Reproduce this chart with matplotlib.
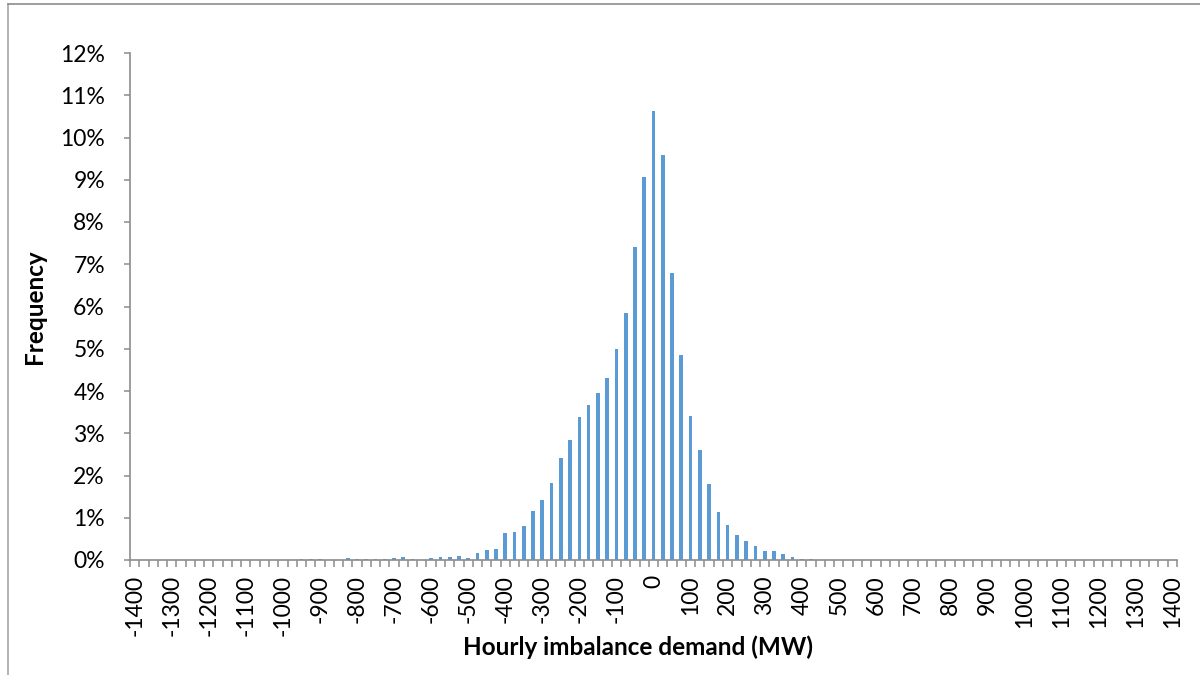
import matplotlib
matplotlib.use("Agg")
import matplotlib.pyplot as plt
from matplotlib.ticker import PercentFormatter, FixedLocator
from matplotlib.lines import Line2D

# Category bins (MW), 25 MW wide
categories = list(range(-1400, 1425, 25))

# Frequency (%) per bin
freq_pct = [
    0, 0, 0, 0, 0, 0, 0, 0, 0, 0, 0, 0, 0, 0, 0, 0, 0, 0,          # -1400 .. -975
    0.02, 0.02, 0.02, 0.005, 0.005, 0.05, 0.015, 0.02, 0.02, 0.02,  # -950 .. -725
    0.05, 0.07, 0.02, 0.0, 0.05, 0.07, 0.07, 0.095, 0.05, 0.17,     # -700 .. -475
    0.24, 0.26, 0.63, 0.67, 0.81, 1.17, 1.42, 1.82, 2.42, 2.84,     # -450 .. -225
    3.38, 3.68, 3.96, 4.30, 5.00, 5.85, 7.41, 9.07, 10.63, 9.58,    # -200 .. 25
    6.79, 4.86, 3.42, 2.60, 1.81, 1.13, 0.84, 0.58, 0.46, 0.34,     # 50 .. 275
    0.22, 0.22, 0.14, 0.08, 0.03, 0.03,                             # 300 .. 425
    0, 0, 0, 0, 0, 0, 0, 0, 0, 0, 0, 0, 0, 0, 0, 0, 0, 0, 0, 0,     # 450 .. 925
    0, 0, 0, 0, 0, 0, 0, 0, 0, 0, 0, 0, 0, 0, 0, 0, 0, 0, 0,        # 950 .. 1400
]

x_label = "Hourly imbalance demand (MW)"
y_label = "Frequency"

plt.rcParams['font.family'] = ['Lato', 'DejaVu Sans']

fig = plt.figure(figsize=(12, 6.75), dpi=100)
ax = fig.add_axes([130/1200, 1 - 560/675, (1177-130)/1200, (560-53)/675])

pos = list(range(len(categories)))
ax.bar(pos, freq_pct, width=0.4, color="#5B9BD5", edgecolor="none")

ax.set_xlim(-0.5, len(categories) - 0.5)
ax.set_ylim(0, 12)
ax.yaxis.set_major_locator(FixedLocator(list(range(0, 13))))
ax.yaxis.set_major_formatter(PercentFormatter(xmax=100, decimals=0))

label_pos = [i for i, c in enumerate(categories) if c % 100 == 0]
ax.set_xticks(label_pos)
ax.set_xticklabels([str(categories[i]) for i in label_pos], rotation=90)
ax.set_xticks([i - 0.5 for i in range(len(categories) + 1)], minor=True)

axis_col = "#8C8C8C"
for s in ["top", "right"]:
    ax.spines[s].set_visible(False)
for s in ["left", "bottom"]:
    ax.spines[s].set_color(axis_col)
    ax.spines[s].set_linewidth(1.2)

ax.tick_params(axis="x", which="major", length=0, pad=11, labelsize=16.5, colors="black")
ax.tick_params(axis="x", which="minor", length=5, width=1.1, color=axis_col, direction="out")
ax.tick_params(axis="y", which="major", length=4, width=1.1, color=axis_col, pad=14,
               labelsize=16.5, labelcolor="black")

fig.text(638/1200, 1 - 647/675, x_label, ha="center", va="center",
         fontsize=17.5, fontweight="bold")
fig.text(35/1200, 1 - 307/675, y_label, ha="center", va="center",
         fontsize=17.5, fontweight="bold", rotation=90)

# Chart-area border (partially visible)
fig.add_artist(Line2D([7.5/1200, 7.5/1200], [0, 1 - 4/675], transform=fig.transFigure,
                      color="#A6A6A6", linewidth=1.2))
fig.add_artist(Line2D([7.5/1200, 1], [1 - 4/675, 1 - 4/675], transform=fig.transFigure,
                      color="#8C8C8C", linewidth=1.2))

fig.savefig("out.png", dpi=100, facecolor="white")
